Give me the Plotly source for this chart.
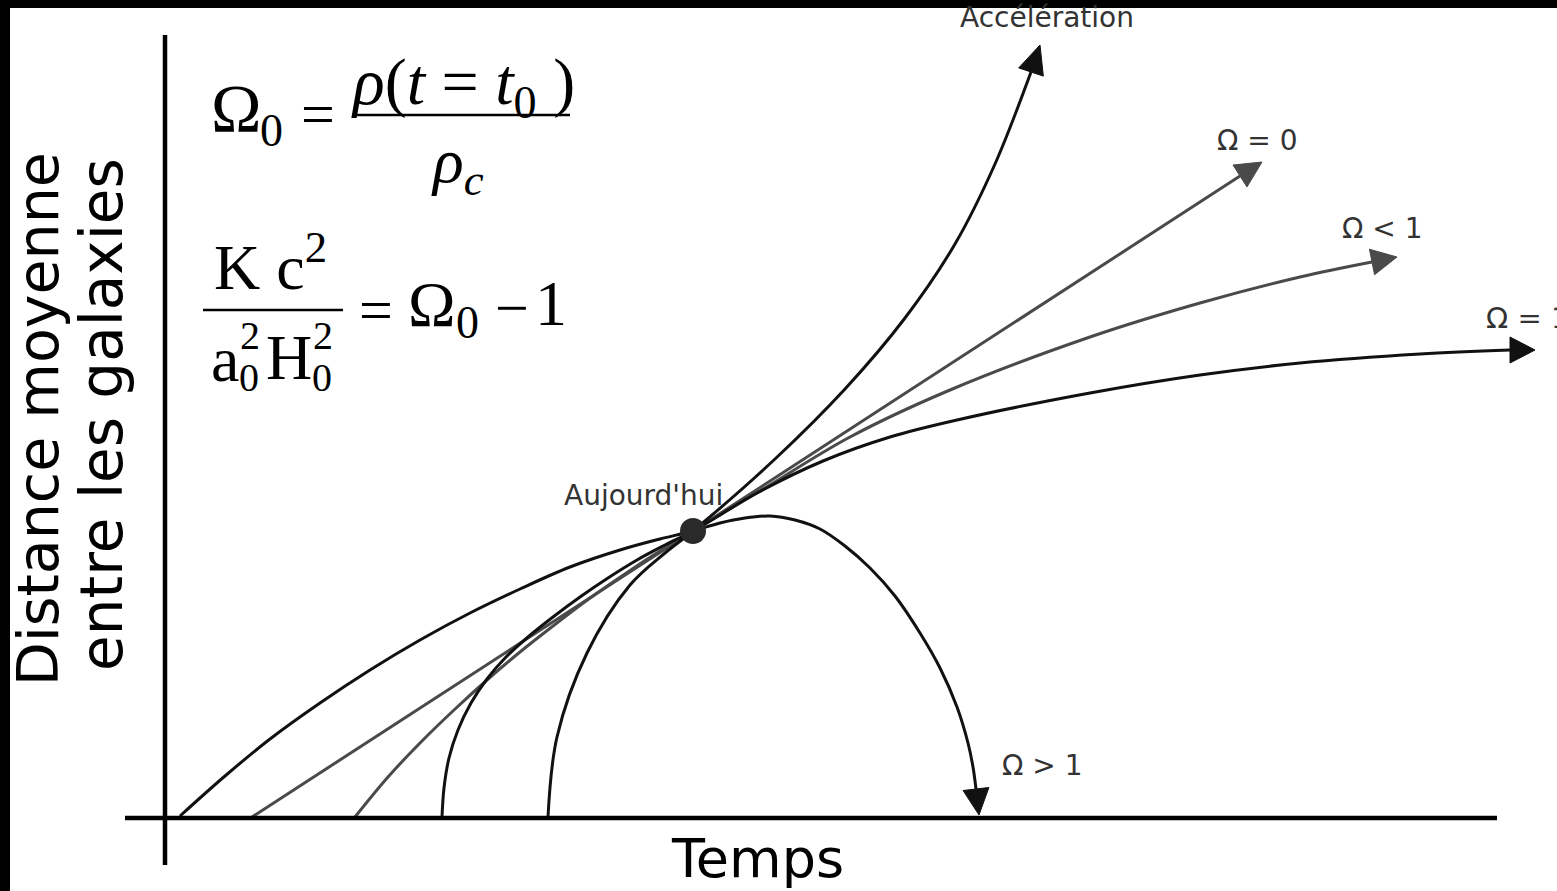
import math
import plotly.graph_objects as go

# Scale-factor curves a(t): time on x, mean galaxy separation on y.
# Units are drawing units with the origin at the axes crossing; the last
# point of each curve is the arrow tip, the one before it the arrow base.
omega_gt1_t = [15, 60, 105, 155, 205, 255, 305, 355, 405, 455, 495, 528,
               555, 580, 605, 630, 655, 680, 705, 730, 755, 775, 792, 803,
               808, 811, 814]
omega_gt1_a = [2, 42, 79, 115, 148, 178, 205, 229, 251, 268, 279, 287,
               295, 300, 302, 298, 289, 272, 250, 222, 185, 150, 111, 75,
               51, 29, 3]

accel_t = [383, 392, 422, 465, 500, 528, 610, 680, 740, 790, 830, 866, 875]
accel_a = [1, 81, 165, 233, 265, 287, 359, 429, 500, 574, 654, 746, 773]

omega_0_t = [87, 528, 1075, 1097]
omega_0_a = [1, 287, 642, 656]

omega_lt1_t = [190, 223, 256, 289, 322, 355, 388, 421, 454, 487, 528,
               595, 685, 785, 925, 1035, 1135, 1207, 1232]
omega_lt1_a = [1, 41, 76, 108, 138, 166, 192, 217, 240, 262, 287,
               327, 381, 428, 481, 515, 541, 556, 561]

omega_1_t = [277, 279, 284, 293, 306, 322, 341, 363, 388, 415, 443, 472,
             500, 528, 592, 658, 725, 792, 925, 1035, 1135, 1255, 1345, 1370]
omega_1_a = [1, 30, 60, 88, 115, 139, 161, 181, 201, 221, 240, 258,
             273, 287, 325, 357, 381, 398, 425, 443, 455, 464, 468, 468]

today_t = [528]
today_a = [287]

BLACK = "#111111"
GREY = "#4a4a4a"
LABEL = "#333333"

fig = go.Figure()


def curve(t, a, color, head_w=26):
    # line up to the arrow base
    fig.add_trace(go.Scatter(
        x=t[:-1], y=a[:-1], mode="lines",
        line=dict(color=color, width=3, shape="spline", smoothing=1.0),
        hoverinfo="skip", showlegend=False,
    ))
    # filled arrow head from base to tip
    bx, by, tx, ty = t[-2], a[-2], t[-1], a[-1]
    ln = math.hypot(tx - bx, ty - by)
    nx, ny = -(ty - by) / ln, (tx - bx) / ln
    h = head_w / 2
    fig.add_trace(go.Scatter(
        x=[tx, bx + nx * h, bx - nx * h, tx],
        y=[ty, by + ny * h, by - ny * h, ty],
        mode="lines", fill="toself", fillcolor=color,
        line=dict(color=color, width=1),
        hoverinfo="skip", showlegend=False,
    ))


curve(omega_gt1_t, omega_gt1_a, BLACK)
curve(omega_0_t, omega_0_a, GREY)
curve(omega_lt1_t, omega_lt1_a, GREY)
curve(omega_1_t, omega_1_a, BLACK)
curve(accel_t, accel_a, BLACK)

fig.add_trace(go.Scatter(
    x=today_t, y=today_a, mode="markers",
    marker=dict(size=26, color="#2a2a2a"), hoverinfo="skip", showlegend=False,
))

shapes = [
    # time axis and distance axis
    dict(type="line", xref="x", yref="y", x0=-40, x1=1332, y0=0, y1=0,
         line=dict(color="black", width=4.5)),
    dict(type="line", xref="x", yref="y", x0=0, x1=0, y0=-47, y1=783,
         line=dict(color="black", width=4.5)),
    # fraction bars
    dict(type="line", xref="x", yref="y", x0=187, x1=405, y0=703, y1=703,
         line=dict(color="black", width=2.5)),
    dict(type="line", xref="x", yref="y", x0=38, x1=178, y0=508, y1=508,
         line=dict(color="black", width=2.5)),
    # dark frame edges
    dict(type="rect", xref="paper", yref="paper", x0=0, x1=1, y0=1 - 8 / 891, y1=1,
         fillcolor="black", line=dict(width=0), layer="above"),
    dict(type="rect", xref="paper", yref="paper", x0=0, x1=10 / 1557, y0=0, y1=1,
         fillcolor="black", line=dict(width=0), layer="above"),
]

SANS = "DejaVu Sans"
SERIF = "Liberation Serif"


def note(x, y, text, size, family=SANS, color=LABEL, xanchor="center", angle=0):
    return dict(x=x, y=y, xref="x", yref="y", text=text, showarrow=False,
                font=dict(family=family, size=size, color=color),
                xanchor=xanchor, yanchor="middle", textangle=angle)


annotations = [
    note(882, 801, "Accélération", 28),
    note(1092, 678, "Ω = 0", 28),
    note(1217, 590, "Ω &lt; 1", 28),
    note(1319, 500, "Ω = 1", 29, xanchor="left"),
    note(835, 53, "Ω &gt; 1", 28, xanchor="left"),
    note(478, 323, "Aujourd'hui", 28),
    note(592, -40, "Temps", 54, color="black"),
    note(-127, 399, "Distance moyenne", 57, color="black", angle=-90),
    note(-63, 403, "entre les galaxies", 58, color="black", angle=-90),
    # density parameter
    note(71, 710, "Ω", 68, SERIF, "black"),
    note(106, 688, "0", 46, SERIF, "black"),
    note(153, 704, "=", 60, SERIF, "black"),
    note(298, 732, "<i>ρ</i>(<i>t</i> = <i>t</i><sub>0</sub> )", 66, SERIF, "black"),
    note(292, 653, "<i>ρ</i><sub><i>c</i></sub>", 64, SERIF, "black"),
    # curvature relation
    note(105, 556, "K c<sup>2</sup>", 64, SERIF, "black"),
    note(60, 459, "a", 64, SERIF, "black"),
    note(85, 483, "2", 40, SERIF, "black"),
    note(84, 441, "0", 40, SERIF, "black"),
    note(124, 461, "H", 64, SERIF, "black"),
    note(158, 483, "2", 40, SERIF, "black"),
    note(157, 441, "0", 40, SERIF, "black"),
    note(211, 508, "=", 60, SERIF, "black"),
    note(267, 514, "Ω", 64, SERIF, "black"),
    note(302, 496, "0", 46, SERIF, "black"),
    note(347, 510, "−", 60, SERIF, "black"),
    note(386, 515, "1", 64, SERIF, "black"),
]

fig.update_layout(
    width=1557, height=891,
    margin=dict(l=0, r=0, t=0, b=0),
    paper_bgcolor="white", plot_bgcolor="white",
    xaxis=dict(range=[-165, 1392], visible=False, fixedrange=True),
    yaxis=dict(range=[-73, 818], visible=False, fixedrange=True),
    shapes=shapes, annotations=annotations,
    showlegend=False,
)

fig.write_html("out.html")
